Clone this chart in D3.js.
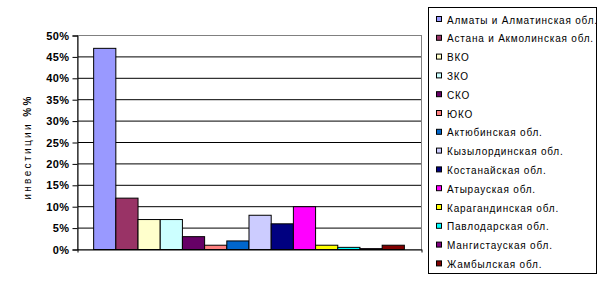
<!DOCTYPE html>
<html>
<head>
<meta charset="utf-8">
<script src="https://cdn.jsdelivr.net/npm/d3@7"></script>
<style>
  body { margin: 0; background: #fff; }
  svg { display: block; font-family: "Liberation Sans", Arial, sans-serif; }
</style>
</head>
<body>
<svg id="chart" width="606" height="285"></svg>
<script>
// регионы (серии) и доля инвестиций
var regions = [
  'Алматы и Алматинская обл.',
  'Астана и Акмолинская обл.',
  'ВКО',
  'ЗКО',
  'СКО',
  'ЮКО',
  'Актюбинская обл.',
  'Кызылординская обл.',
  'Костанайская обл.',
  'Атырауская обл.',
  'Карагандинская обл.',
  'Павлодарская обл.',
  'Мангистауская обл.',
  'Жамбылская обл.'
]
var shares = [0.47, 0.12, 0.07, 0.07, 0.03, 0.01, 0.02, 0.08, 0.06, 0.10, 0.01, 0.005, 0.002, 0.01]
var colors = ['#9999FF', '#993366', '#FFFFCC', '#CCFFFF', '#660066', '#FF8080', '#0066CC',
              '#CCCCFF', '#000080', '#FF00FF', '#FFFF00', '#00FFFF', '#800080', '#800000']
var yTicks = [0, 0.05, 0.1, 0.15, 0.2, 0.25, 0.3, 0.35, 0.4, 0.45, 0.5]

var svg = d3.select('#chart')

// границы области построения
var pLeft = 77, pRight = 421, pTop = 35, pBottom = 249

var y = d3.scaleLinear().domain([0, 0.5]).range([pBottom + 0.5, pTop + 0.5])
// одна категория, 14 серий; зазор как в Excel (150%)
var x = d3.scaleBand().domain(regions).range([pLeft, pRight]).paddingInner(0).paddingOuter(0.75)

// сетка
svg.append('g')
  .selectAll('line')
  .data(yTicks.slice(1, -1))
  .enter()
  .append('line')
  .attr('x1', pLeft).attr('x2', pRight)
  .attr('y1', function(d) { return y(d) })
  .attr('y2', function(d) { return y(d) })
  .attr('stroke', '#000')

// рамка области построения
svg.append('rect')
  .attr('x', pLeft + 0.5).attr('y', pTop + 0.5)
  .attr('width', pRight - pLeft).attr('height', pBottom - pTop)
  .attr('fill', 'none')
  .attr('stroke', '#808080')

// столбцы
svg.append('g')
  .selectAll('rect')
  .data(shares)
  .enter()
  .append('rect')
  .attr('x', function(d, i) { return x(regions[i]) })
  .attr('y', function(d) { return y(d) })
  .attr('width', x.bandwidth())
  .attr('height', function(d) { return y(0) - y(d) })
  .attr('fill', function(d, i) { return colors[i] })
  .attr('stroke', '#000')
  .attr('stroke-width', 1)

// ось Y
var yAxis = svg.append('g')
  .attr('transform', 'translate(' + (pLeft + 0.5) + ',0)')
  .call(d3.axisLeft(y).tickValues(yTicks).tickFormat(d3.format('.0%')).tickSize(5).tickPadding(3))
yAxis.select('.domain').attr('stroke', '#000')
yAxis.selectAll('line').attr('stroke', '#000')
yAxis.selectAll('text')
  .attr('font-size', 11)
  .attr('font-weight', 'bold')
  .attr('letter-spacing', 0.4)
  .attr('fill', '#000')
  .attr('font-family', '"Liberation Sans", Arial, sans-serif')

// ось X (без подписей)
var xAxis = svg.append('g')
  .attr('transform', 'translate(0,' + (pBottom + 0.5) + ')')
  .call(d3.axisBottom(d3.scaleLinear().domain([0, 1]).range([pLeft + 0.5, pRight + 0.5]))
    .tickValues([0, 1]).tickFormat('').tickSizeInner(3).tickSizeOuter(0))
xAxis.select('.domain').attr('stroke', '#000')
xAxis.selectAll('line').attr('stroke', '#000')

// подпись оси Y
svg.append('text')
  .attr('transform', 'translate(31,' + ((pTop + pBottom) / 2 + 5) + ') rotate(-90)')
  .attr('text-anchor', 'middle')
  .attr('font-size', 10)
  .attr('letter-spacing', 2.4)
  .attr('fill', '#000')
  .text('инвестиции ')
  .append('tspan')
  .attr('font-weight', 'bold')
  .text('%%')

// легенда
var legend = svg.append('g')
legend.append('rect')
  .attr('x', 428.5).attr('y', 7.5)
  .attr('width', 168).attr('height', 266)
  .attr('fill', '#fff')
  .attr('stroke', '#000')

var items = legend.selectAll('.item')
  .data(regions)
  .enter()
  .append('g')
  .attr('class', 'item')
  .attr('transform', function(d, i) { return 'translate(0,' + (20 + i * 18.8) + ')' })

items.append('rect')
  .attr('x', 436.5).attr('y', -3.5)
  .attr('width', 5).attr('height', 5)
  .attr('fill', function(d, i) { return colors[i] })
  .attr('stroke', '#000')

items.append('text')
  .attr('x', 447)
  .attr('y', 3.5)
  .attr('font-size', 10)
  .attr('letter-spacing', 0.8)
  .attr('fill', '#000')
  .text(function(d) { return d })
</script>
</body>
</html>
